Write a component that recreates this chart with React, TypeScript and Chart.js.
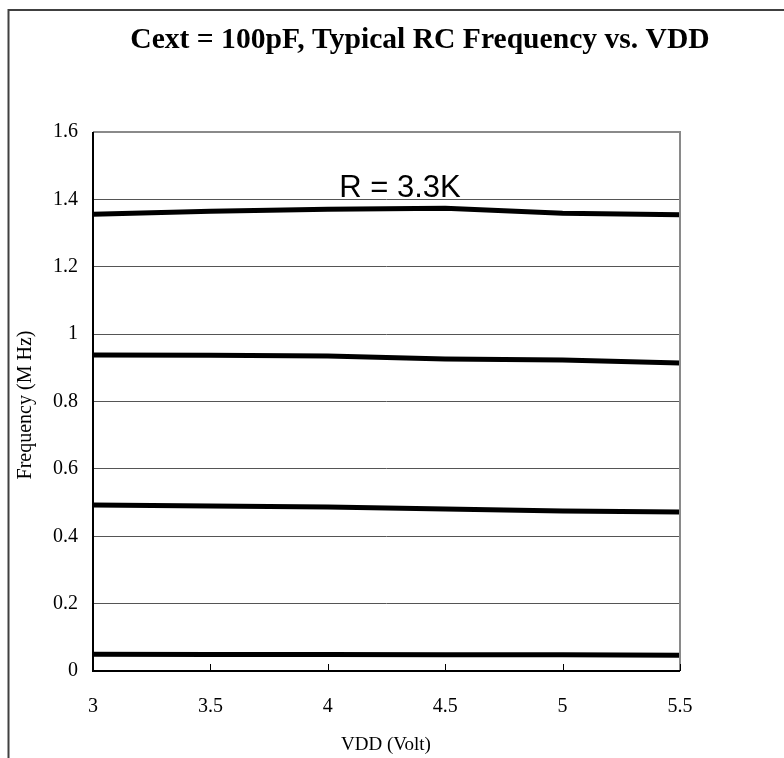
import React, { useEffect, useRef } from "react";
import { Chart, registerables } from "chart.js";

Chart.register(...registerables);

const vdd = [3, 3.5, 4, 4.5, 5, 5.5];
const r3k3 = [1.356, 1.365, 1.371, 1.374, 1.359, 1.354];
const seriesB = [0.938, 0.937, 0.935, 0.926, 0.923, 0.914];
const seriesC = [0.493, 0.49, 0.487, 0.481, 0.475, 0.472];
const seriesD = [0.05, 0.049, 0.049, 0.048, 0.048, 0.047];
const yTicks = [0, 0.2, 0.4, 0.6, 0.8, 1, 1.2, 1.4, 1.6];

const titleText = "Cext = 100pF, Typical RC Frequency vs. VDD";
const noteText = "R = 3.3K";
const xTitle = "VDD (Volt)";
const yTitle = "Frequency (M Hz)";

const SERIF = "'Liberation Serif', 'Times New Roman', serif";
const SANS = "'Liberation Sans', Arial, sans-serif";

const decor = {
  id: "decor",
  beforeDraw(chart: any) {
    const { ctx } = chart;
    ctx.save();
    ctx.fillStyle = "#ffffff";
    ctx.fillRect(0, 0, chart.width, chart.height);
    ctx.strokeStyle = "#404040";
    ctx.lineWidth = 2;
    ctx.beginPath();
    ctx.moveTo(8.5, chart.height + 5);
    ctx.lineTo(8.5, 10);
    ctx.lineTo(chart.width + 5, 10);
    ctx.stroke();
    ctx.restore();
  },
  afterDatasetsDraw(chart: any) {
    const { ctx, chartArea, scales } = chart;
    const { left, right, top, bottom } = chartArea;
    ctx.save();
    ctx.strokeStyle = "#8a8a8a";
    ctx.lineWidth = 2;
    ctx.beginPath();
    ctx.moveTo(left, top);
    ctx.lineTo(right, top);
    ctx.lineTo(right, bottom);
    ctx.stroke();
    ctx.strokeStyle = "#000000";
    ctx.lineWidth = 2;
    ctx.beginPath();
    ctx.moveTo(left, top);
    ctx.lineTo(left, bottom);
    ctx.lineTo(right, bottom);
    ctx.stroke();
    ctx.lineWidth = 1;
    scales.x.ticks.forEach((t: any) => {
      const px = Math.round(scales.x.getPixelForValue(t.value)) + 0.5;
      ctx.beginPath();
      ctx.moveTo(px, bottom);
      ctx.lineTo(px, bottom - 7);
      ctx.stroke();
    });
    ctx.fillStyle = "#000000";
    ctx.textAlign = "center";
    ctx.textBaseline = "alphabetic";
    ctx.font = "bold 29.6px " + SERIF;
    ctx.fillText(titleText, 420, 48);
    ctx.font = "31px " + SANS;
    ctx.fillText(noteText, 400, 197);
    ctx.font = "19px " + SERIF;
    ctx.fillText(xTitle, 386, 750);
    ctx.font = "20px " + SERIF;
    ctx.translate(31, 405);
    ctx.rotate(-Math.PI / 2);
    ctx.fillText(yTitle, 0, 0);
    ctx.restore();
  },
};

const mk = (vals: number[]) => ({
  data: vdd.map((x, i) => ({ x, y: vals[i] })),
  borderColor: "#000000",
  borderWidth: 5,
  pointRadius: 0,
  tension: 0,
  fill: false,
});

export default function App() {
  const ref = useRef<HTMLCanvasElement>(null);
  useEffect(() => {
    if (!ref.current) return;
    const chart = new Chart(ref.current, {
      type: "line",
      data: { datasets: [mk(r3k3), mk(seriesB), mk(seriesC), mk(seriesD)] },
      options: {
        animation: false,
        responsive: false,
        layout: { padding: { left: 0, right: 104, top: 132, bottom: 0 } },
        plugins: { legend: { display: false }, tooltip: { enabled: false }, title: { display: false } },
        scales: {
          x: {
            type: "linear",
            min: 3,
            max: 5.5,
            afterFit: (s: any) => { s.height = 87; },
            ticks: {
              stepSize: 0.5,
              padding: 24,
              color: "#000",
              font: { family: SERIF, size: 20 },
              callback: (v: any) => String(Number(Number(v).toFixed(1))),
            },
            grid: { display: false, drawTicks: false },
            border: { display: false },
          },
          y: {
            min: 0,
            max: 1.6,
            afterFit: (s: any) => { s.width = 93; },
            afterBuildTicks: (s: any) => { s.ticks = yTicks.map((v) => ({ value: v })); },
            ticks: {
              padding: 15,
              color: "#000",
              font: { family: SERIF, size: 20 },
              callback: (v: any) => String(Number(Number(v).toFixed(1))),
            },
            grid: { color: "#555555", lineWidth: 1, drawTicks: false },
            border: { display: false },
          },
        },
      },
      plugins: [decor],
    });
    return () => chart.destroy();
  }, []);
  return (
    <div style={{ position: "fixed", left: 0, top: 0, width: 784, height: 758 }}>
      <canvas ref={ref} width={784} height={758} style={{ display: "block" }} />
    </div>
  );
}
